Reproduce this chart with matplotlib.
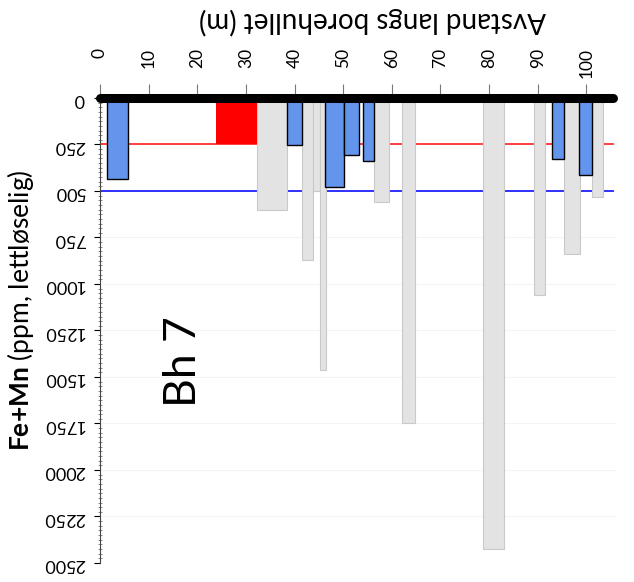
import matplotlib
matplotlib.use('Agg')
import matplotlib.pyplot as plt
from matplotlib.ticker import MultipleLocator

plt.rcParams['font.family'] = ['Lato', 'DejaVu Sans']
plt.rcParams['mathtext.fontset'] = 'custom'
plt.rcParams['mathtext.rm'] = 'Lato'
plt.rcParams['mathtext.bf'] = 'Lato:bold'

# intervals along the borehole (m) and Fe+Mn values (ppm)
gray_start = [32.3, 41.5, 43.8, 45.2, 56.3, 62.0, 78.8, 89.3, 95.4, 101.1]
gray_end = [38.4, 43.7, 45.3, 46.4, 59.4, 64.7, 83.0, 91.5, 98.7, 103.4]
gray_val = [600, 870, 500, 1460, 557, 1745, 2425, 1060, 840, 530]

blue_start = [1.4, 38.4, 46.3, 50.2, 54.1, 93.0, 98.5]
blue_end = [5.8, 41.5, 50.2, 53.2, 56.4, 95.4, 101.1]
blue_val = [437, 255, 477, 308, 339, 326, 412]

red_start = [23.9]
red_end = [32.3]
red_val = [250]

hole_length = 105.5
limit_low = 250
limit_high = 500

fig = plt.figure(figsize=(6.34, 5.82), dpi=100)
ax = fig.add_axes([0.1577, 0.0327, 0.8155, 0.799])

def bars(starts, ends, vals, **kw):
    widths = [e - s for s, e in zip(starts, ends)]
    ax.bar(starts, vals, width=widths, align='edge', **kw)

bars(gray_start, gray_end, gray_val, color='#e3e3e3', edgecolor='#c9c9c9', linewidth=0.8, zorder=2)
bars(blue_start, blue_end, blue_val, color='#6495ed', edgecolor='black', linewidth=1.0, zorder=3)
bars(red_start, red_end, red_val, color='#ff0000', edgecolor='none', zorder=3)

ax.plot([0, hole_length], [limit_low, limit_low], color='#ff3030', lw=1.3, zorder=1)
ax.plot([0, hole_length], [limit_high, limit_high], color='#2020ff', lw=1.3, zorder=1)
ax.plot([0, hole_length], [0, 0], color='black', lw=6.5, solid_capstyle='round', zorder=5, clip_on=False)

ax.set_xlim(0, 106.3)
ax.set_ylim(2500, 0)

ax.set_xticks(range(0, 101, 10))
ax.set_yticks(range(0, 2501, 250))
ax.yaxis.set_minor_locator(MultipleLocator(25))

ax.tick_params(axis='x', top=True, bottom=False, labeltop=True, labelbottom=False,
               labelrotation=90, length=10, width=0.8, color='#777777', pad=26, labelsize=12.5)
ax.tick_params(axis='y', which='major', length=4, width=0.8, pad=7, labelsize=13, labelrotation=180)
ax.tick_params(axis='y', which='minor', length=3, width=0.6, direction='inout', color='#777777')
plt.setp(ax.get_xticklabels(), va='top')

for side in ['top', 'right', 'bottom']:
    ax.spines[side].set_visible(False)
ax.spines['left'].set_color('#444444')

ax.grid(axis='y', color='#f4f4f4', lw=0.8, zorder=0)
ax.set_axisbelow(True)

fig.text(372 / 634, 1 - 21 / 582, 'Avstand langs borehullet (m)', rotation=180,
         ha='center', va='center', fontsize=20)
fig.text(21 / 634, 1 - 310 / 582, r'$\mathbf{Fe{+}Mn}$ (ppm, lettløselig)', rotation=90,
         ha='center', va='center', fontsize=19)
fig.text(183 / 634, 1 - 362 / 582, 'Bh 7', rotation=90, ha='center', va='center', fontsize=32)

fig.savefig('out.png', dpi=100)
